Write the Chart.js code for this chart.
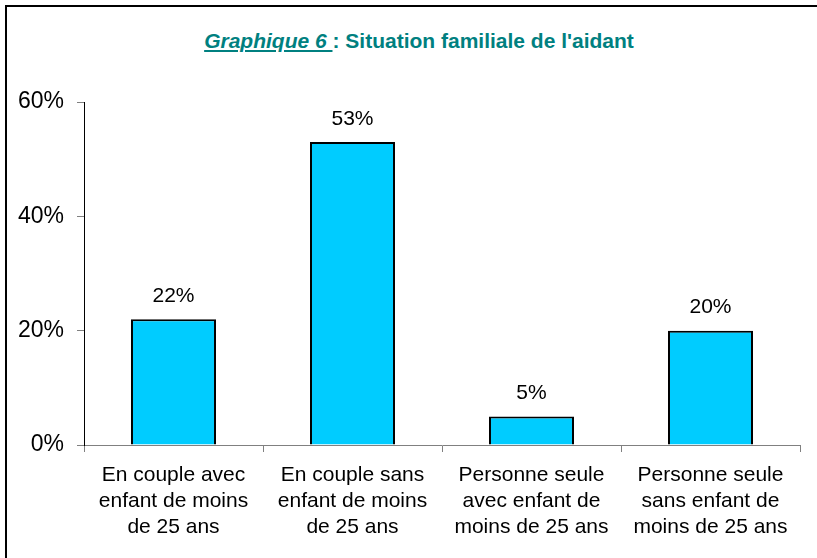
<!DOCTYPE html>
<html>
<head>
<meta charset="utf-8">
<script src="https://cdn.jsdelivr.net/npm/chart.js@4/dist/chart.umd.min.js"></script>
<style>
  html, body { margin: 0; padding: 0; background: #fff; }
  #wrap { position: relative; width: 817px; height: 558px; overflow: hidden; }
  #frame { position: absolute; left: 5px; top: 5px; width: 900px; height: 700px; border: 2px solid #000; box-sizing: border-box; }
  #titre { position: absolute; left: 0; top: 29px; width: 838px; text-align: center;
    font: bold 21px "Liberation Sans", Arial, sans-serif; color: #008080; }
  #titre span { font-style: italic; text-decoration: underline; }
  canvas { position: absolute; left: 0; top: 0; }
</style>
</head>
<body>
<div id="wrap">
  <div id="frame"></div>
  <div id="titre"><span>Graphique 6 </span> : Situation familiale de l'aidant</div>
  <canvas id="graphique" width="817" height="558"></canvas>
</div>
<script>
const categories = [
    ['En couple avec', 'enfant de moins', 'de 25 ans'],
    ['En couple sans', 'enfant de moins', 'de 25 ans'],
    ['Personne seule', 'avec enfant de', 'moins de 25 ans'],
    ['Personne seule', 'sans enfant de', 'moins de 25 ans']
];
const valeurs = [22, 53, 5, 20];
const ticksY = [0, 20, 40, 60];

const police = '"Liberation Sans", Arial, sans-serif';

// étiquettes de valeur au-dessus des barres
const etiquettes = {
    id: 'etiquettes',
    afterDatasetsDraw(chart) {
        const ctx = chart.ctx;
        const meta = chart.getDatasetMeta(0);
        ctx.save();
        ctx.font = '21px ' + police;
        ctx.fillStyle = '#000';
        ctx.textAlign = 'center';
        ctx.textBaseline = 'middle';
        meta.data.forEach((bar, i) => {
            ctx.fillText(valeurs[i] + '%', bar.x, bar.y - 23);
        });
        ctx.restore();
    }
};

new Chart(document.getElementById('graphique'), {
    type: 'bar',
    data: {
        labels: categories,
        datasets: [{
            data: valeurs,
            backgroundColor: '#00CCFF',
            borderColor: '#000',
            borderWidth: 2,
            categoryPercentage: 0.475,
            barPercentage: 1
        }]
    },
    options: {
        responsive: false,
        animation: false,
        layout: { padding: { left: 0, top: 102, right: 17, bottom: 0 } },
        plugins: { legend: { display: false }, tooltip: { enabled: false } },
        scales: {
            x: {
                afterFit: s => { s.height = 113; },
                grid: { drawOnChartArea: false, tickLength: 7, color: '#808080', offset: true },
                border: { color: '#808080', width: 1 },
                ticks: {
                    color: '#000',
                    font: { family: police, size: 21, lineHeight: 1.24 },
                    padding: 10,
                    maxRotation: 0,
                    autoSkip: false
                }
            },
            y: {
                min: 0,
                max: 60,
                afterFit: s => { s.width = 84; },
                afterBuildTicks: s => { s.ticks = ticksY.map(v => ({ value: v })); },
                grid: { drawOnChartArea: false, tickLength: 7, color: '#808080' },
                border: { color: '#000', width: 1 },
                ticks: {
                    color: '#000',
                    font: { family: police, size: 23 },
                    padding: 13,
                    callback: v => v + '%'
                }
            }
        }
    },
    plugins: [etiquettes]
});
</script>
</body>
</html>
